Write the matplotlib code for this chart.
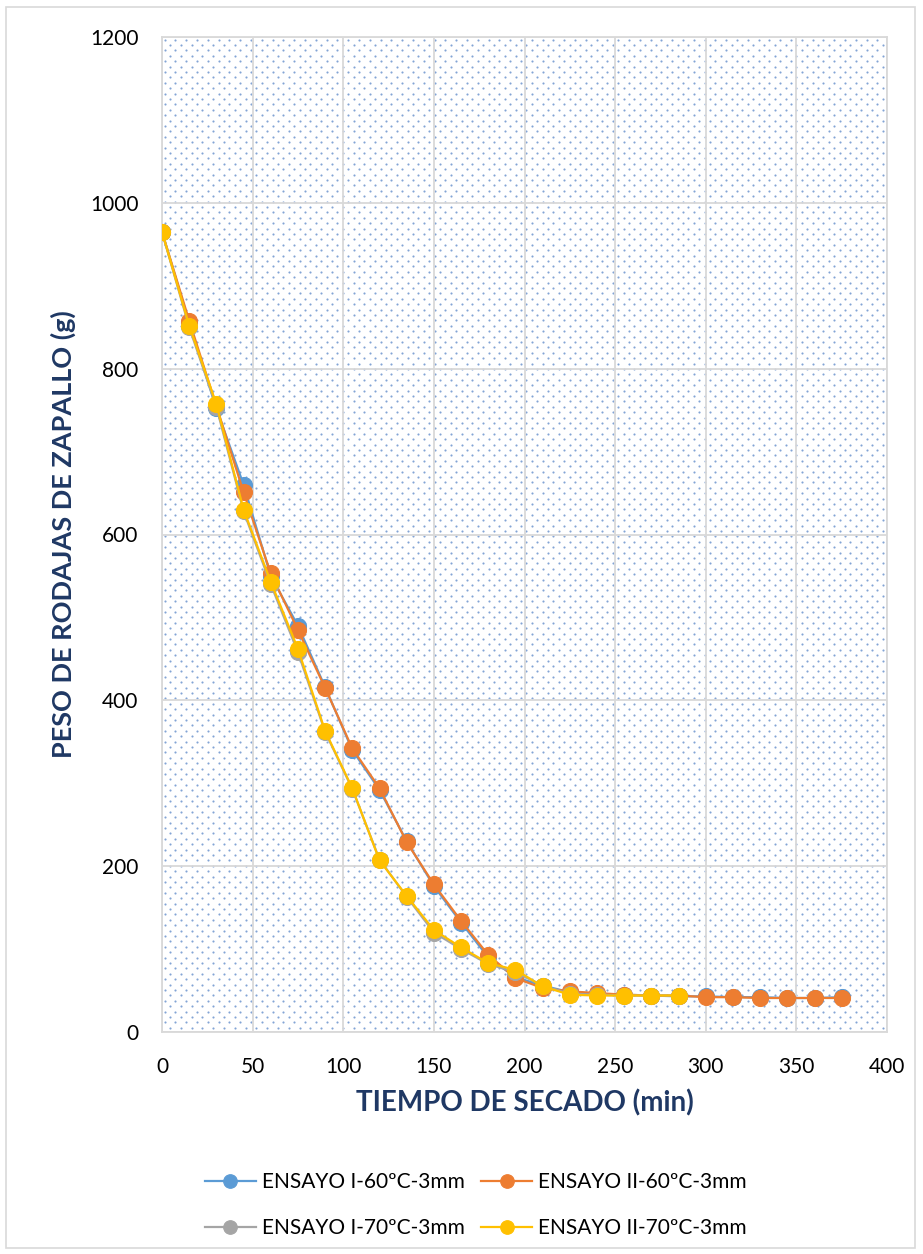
import matplotlib.pyplot as plt
import numpy as np
from matplotlib.patches import Rectangle

plt.rcParams["font.family"] = ["Lato", "DejaVu Sans"]

# drying curves, weight of pumpkin slices (g) every 15 min
t_60 = [0, 15, 30, 45, 60, 75, 90, 105, 120, 135, 150, 165, 180, 195, 210,
        225, 240, 255, 270, 285, 300, 315, 330, 345, 360, 375]
t_70 = [0, 15, 30, 45, 60, 75, 90, 105, 120, 135, 150, 165, 180, 195, 210,
        225, 240, 255, 270, 285]
ensayo_i_60 = [965, 855, 752, 660, 550, 490, 416, 340, 292, 230, 176, 132, 90,
               66, 56, 48, 46, 45, 44, 43, 43, 42, 42, 41, 41, 42]
ensayo_ii_60 = [965, 858, 755, 651, 553, 485, 415, 342, 294, 229, 178, 134, 93,
                65, 53, 49, 47, 45, 44, 44, 42, 42, 41, 41, 41, 41]
ensayo_i_70 = [965, 850, 754, 628, 540, 458, 362, 293, 208, 163, 120, 100, 82,
               72, 56, 46, 45, 44, 44, 44]
ensayo_ii_70 = [965, 852, 757, 630, 543, 462, 363, 294, 207, 164, 123, 102, 83,
                75, 55, 45, 44, 44, 44, 44]

SERIES = [
    ("ENSAYO I-60ºC-3mm", t_60, ensayo_i_60, "#5B9BD5"),
    ("ENSAYO II-60ºC-3mm", t_60, ensayo_ii_60, "#ED7D31"),
    ("ENSAYO I-70ºC-3mm", t_70, ensayo_i_70, "#A5A5A5"),
    ("ENSAYO II-70ºC-3mm", t_70, ensayo_ii_70, "#FFC000"),
]
NAVY = "#1F3864"
GRID = "#D9D9D9"

W, H = 923, 1254
fig = plt.figure(figsize=(W / 100, H / 100), dpi=100)
L, R, T, B = 162, 887, 37, 1032
ax = fig.add_axes([L / W, 1 - B / H, (R - L) / W, (B - T) / H])

# chart border
fig.add_artist(Rectangle((6 / W, 6 / H), (W - 14) / W, (H - 13) / H,
                         transform=fig.transFigure, fill=False,
                         edgecolor=GRID, lw=1.2))

# Excel "5%" dotted pattern fill of the plot area
pw, ph = R - L, B - T
dx, dy = 10.8, 5.4
xs, ys = [], []
for j, yy in enumerate(np.arange(2.5, ph, dy)):
    off = 0 if j % 2 == 0 else dx / 2
    for xx in np.arange(2.5 + off, pw, dx):
        xs.append(xx / pw)
        ys.append(1 - yy / ph)
ax.scatter(xs, ys, s=2.4, color="#5A86C8", alpha=0.75, lw=0,
           transform=ax.transAxes, zorder=0)

handles = {}
for name, t, y, c in SERIES:
    (ln,) = ax.plot(t, y, color=c, lw=1.6, marker="o", ms=11.5,
                    mfc=c, mec=c, mew=0.8, label=name, zorder=3)
    handles[name] = ln

ax.set_xlim(0, 400)
ax.set_ylim(0, 1200)
ax.set_xticks(np.arange(0, 401, 50))
ax.set_yticks(np.arange(0, 1201, 200))
ax.grid(True, color=GRID, lw=1.3, zorder=1)
ax.set_axisbelow(True)
for s in ax.spines.values():
    s.set_color(GRID)
    s.set_linewidth(1.3)
ax.tick_params(length=0, labelsize=15, colors="black")
ax.tick_params(axis="y", pad=17)
ax.tick_params(axis="x", pad=18)

ax.set_xlabel("TIEMPO DE SECADO (min)", fontsize=20, fontweight="bold",
              color=NAVY, va="center")
ax.set_ylabel("PESO DE RODAJAS DE ZAPALLO (g)", fontsize=19.5, fontweight="bold",
              color=NAVY, va="center")
ax.xaxis.set_label_coords(0.5, -(1103 - B) / ph)
ax.yaxis.set_label_coords(-(L - 63) / pw, 0.5)

order = ["ENSAYO I-60ºC-3mm", "ENSAYO I-70ºC-3mm",
         "ENSAYO II-60ºC-3mm", "ENSAYO II-70ºC-3mm"]
leg = fig.legend([handles[n] for n in order], order, ncol=2,
                 loc="center", bbox_to_anchor=(476 / W, 1 - 1205 / H),
                 frameon=False, fontsize=15, handlelength=2.45,
                 handletextpad=0.3, columnspacing=0.77, labelspacing=1.25,
                 markerscale=0.85)

fig.savefig("out.png", dpi=100)
